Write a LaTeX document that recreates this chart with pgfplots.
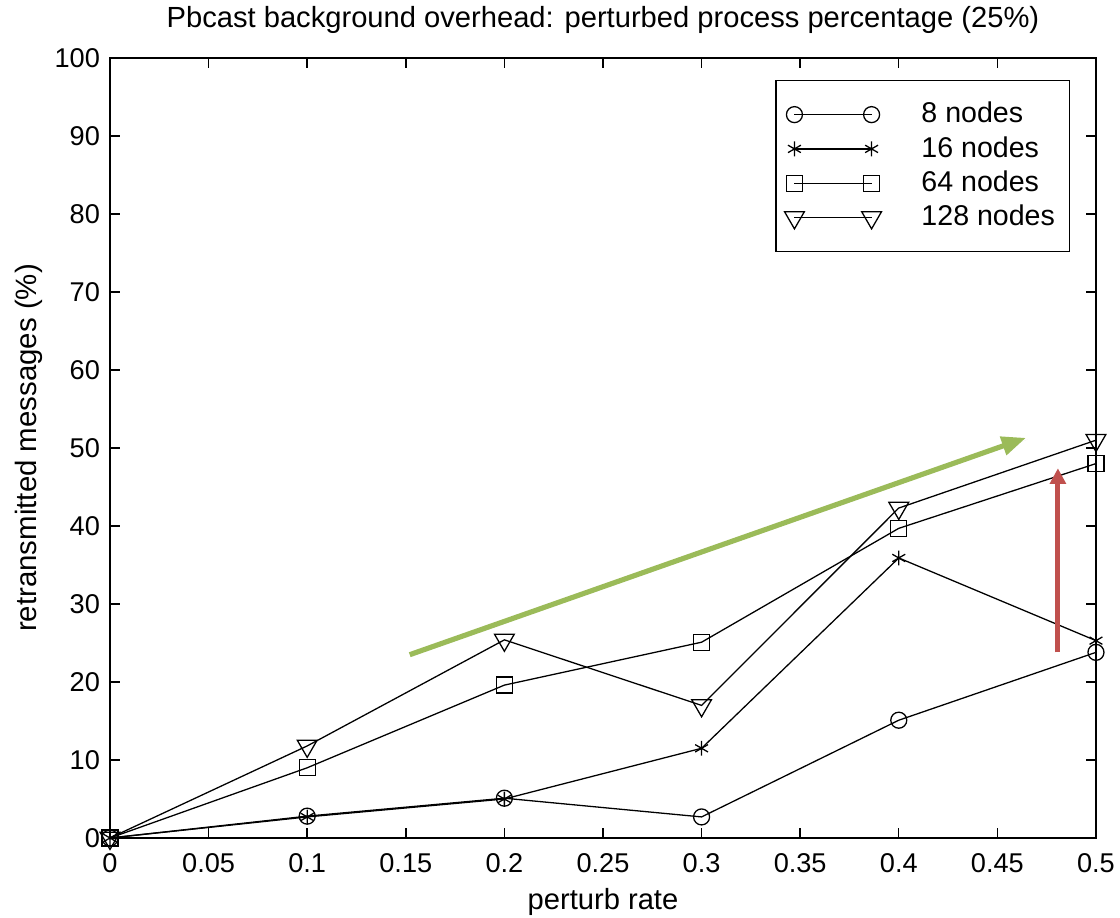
\documentclass[border=0pt]{standalone}
\usepackage{fontspec}
\setmainfont{Liberation Sans}
\usepackage{pgfplots}
\pgfplotsset{compat=1.18}
\usetikzlibrary{arrows.meta,shadows}
\definecolor{arrgreen}{HTML}{9BBB59}
\definecolor{arrred}{HTML}{C0504D}

\begin{document}
\begin{tikzpicture}
\useasboundingbox (0,0) rectangle (392pt,321.3pt);
\begin{axis}[
  at={(38.5pt,28pt)}, anchor=south west,
  scale only axis,
  width=345.1pt, height=273pt,
  xmin=0, xmax=0.5, ymin=0, ymax=100,
  xtick={0,0.05,...,0.5},
  ytick={0,10,...,100},
  xticklabel style={/pgf/number format/fixed, /pgf/number format/precision=2, yshift=-2pt},
  /pgf/number format/assume math mode=true,
  tick label style={font=\fontsize{9.5}{11}\selectfont},
  tick align=inside, major tick length=3.5pt,
  axis line style={line width=0.5pt},
  every tick/.style={black, line width=0.5pt},
  every axis title shift=0pt,
  title={Pbcast background overhead: perturbed process percentage (25\%)},
  title style={font=\fontsize{10.2}{12}\selectfont, at={(axis description cs:0.5,1.049)}, anchor=center},
  xlabel={perturb rate},
  xlabel style={font=\fontsize{10.2}{12}\selectfont, at={(axis description cs:0.5,-0.082)}, anchor=center},
  ylabel={retransmitted messages (\%)},
  ylabel style={font=\fontsize{10.3}{12}\selectfont, at={(axis description cs:-0.082,0.5)}, anchor=center},
  clip=false,
  legend cell align=left,
  legend style={at={(axis description cs:0.9736,0.9718)}, anchor=north east,
    draw=black, line width=0.5pt, font=\fontsize{10}{12}\selectfont,
    inner xsep=3pt, inner ysep=5.5pt, row sep=-0.75pt},
  legend image code/.code={
    \draw[#1] plot coordinates {(0pt,0pt) (27pt,0pt)};
  },
  every axis plot/.append style={black, line width=0.45pt, mark options={solid, fill=none}},
]
\addplot[mark=o, mark size=2.8pt] coordinates {
  (0,0) (0.1,2.8) (0.2,5.1) (0.3,2.7) (0.4,15.1) (0.5,23.8)
};
\addlegendentry{\hspace{12pt}8 nodes}
\addplot[mark=asterisk, mark size=2.6pt] coordinates {
  (0,0) (0.1,2.7) (0.2,5.0) (0.3,11.5) (0.4,35.9) (0.5,25.3)
};
\addlegendentry{\hspace{12pt}16 nodes}
\addplot[mark=square, mark size=2.8pt] coordinates {
  (0,0) (0.1,9.0) (0.2,19.6) (0.3,25.1) (0.4,39.7) (0.5,48.0)
};
\addlegendentry{\hspace{12pt}64 nodes}
\addplot[mark=triangle, mark options={rotate=180}, mark size=4pt] coordinates {
  (0,0) (0.1,11.8) (0.2,25.4) (0.3,17.0) (0.4,42.3) (0.5,51.0)
};
\addlegendentry{\hspace{12pt}128 nodes}
\draw[arrgreen, line width=1.8pt, -{Triangle[length=8.5pt,width=6.5pt]},
  drop shadow={opacity=0.25, shadow xshift=0.6pt, shadow yshift=-0.6pt}]
  (axis cs:0.152,23.5) -- (axis cs:0.4645,51.3);
\draw[arrred, line width=1.8pt, -{Triangle[length=5.5pt,width=5.5pt]}]
  (axis cs:0.4807,23.8) -- (axis cs:0.4807,47.4);
\end{axis}
\end{tikzpicture}
\end{document}
